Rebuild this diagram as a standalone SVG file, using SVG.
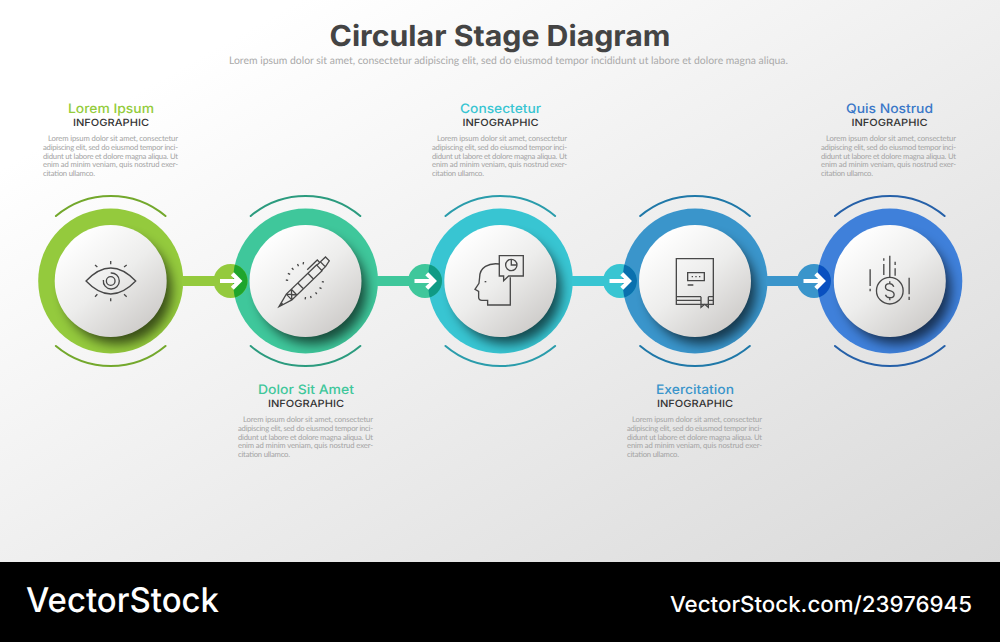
<svg xmlns="http://www.w3.org/2000/svg" xmlns:xlink="http://www.w3.org/1999/xlink" width="1000" height="642" viewBox="0 0 1000 642">
<style>
text{text-rendering:geometricPrecision}
.title{font:700 29px Inter,"Open Sans",sans-serif;fill:#444}
.sub{font:400 10.5px Lato,"Liberation Sans",sans-serif;fill:#aaa}
.head{font:500 13px Inter,"Open Sans",sans-serif}
.info{font:500 10px Inter,"Open Sans",sans-serif;fill:#333}
.body{font:400 7.7px Lato,"Liberation Sans",sans-serif;fill:#a3a3a3}
.arc{fill:none;stroke-width:2;stroke-linecap:round}
.ic{fill:none;stroke:#484848;stroke-width:4;stroke-linecap:butt;stroke-linejoin:miter}
.pen{fill:none;stroke:#484848;stroke-width:1.3;stroke-linejoin:miter}
.arrow{fill:none;stroke:#fff;stroke-width:4.200}
.wm{fill:#fff;font-family:Inter,"Open Sans",sans-serif}
</style>
<defs>
<linearGradient id="bg" x1="0" y1="0" x2="1" y2="1"><stop offset="0.15" stop-color="#fff"/><stop offset="1" stop-color="#d9d9d9"/></linearGradient>
<linearGradient id="disc" x1="0.18" y1="0.1" x2="0.82" y2="0.9"><stop offset="0" stop-color="#fff"/><stop offset="0.5" stop-color="#ededec"/><stop offset="1" stop-color="#cfcdcb"/></linearGradient>
<filter id="blur" x="-40%" y="-40%" width="180%" height="180%"><feGaussianBlur stdDeviation="6"/></filter>
<clipPath id="ringClip"><circle r="72.5"/></clipPath>
<clipPath id="r2"><circle cx="305.5" cy="281" r="72.5"/></clipPath>
<clipPath id="r3"><circle cx="500.3" cy="281" r="72.5"/></clipPath>
<clipPath id="r4"><circle cx="695" cy="281" r="72.5"/></clipPath>
<clipPath id="r5"><circle cx="889.8" cy="281" r="72.5"/></clipPath>
<g id="plate">
<g clip-path="url(#ringClip)"><circle cx="7" cy="9" r="54" fill="#000" opacity="0.62" filter="url(#blur)"/></g>
<circle r="56" fill="url(#disc)"/>
</g>
<path id="arcs" d="M-54.8-65A85 85 0 0 1 54.8-65M-54.8 65A85 85 0 0 0 54.8 65"/>
<path id="arr" d="M-10.5 0H8M1.800-7.200L9 0L1.800 7.200"/>
</defs>
<rect width="1000" height="562" fill="url(#bg)"/>
<text class="title" x="500" y="46" text-anchor="middle" textLength="341" lengthAdjust="spacingAndGlyphs">Circular Stage Diagram</text>
<text class="sub" x="229" y="64" textLength="559" lengthAdjust="spacingAndGlyphs">Lorem ipsum dolor sit amet, consectetur adipiscing elit, sed do eiusmod tempor incididunt ut labore et dolore magna aliqua.</text>

<g id="node-1">
<g transform="translate(110.700 281)"><use xlink:href="#arcs" class="arc" stroke="#73a82c"/><circle r="72.500" fill="#94ca3d"/><use xlink:href="#plate"/>
<g transform="scale(.3333) translate(-272 -573)" class="ic"><path d="M198 573Q272 495 347 573Q272 651 198 573Z"/><path d="M272 549A24 24 0 1 1 250 570"/><circle cx="272" cy="573" r="13"/><path d="M272 513V523M225 525L232 531M320 525L312 531M272 625V634M225 620L232 613M320 620L312 613"/></g></g>
<text class="head" x="111" y="113" text-anchor="middle" fill="#93cc3c" textLength="86" lengthAdjust="spacingAndGlyphs">Lorem Ipsum</text>
<text class="info" x="111" y="126" text-anchor="middle" textLength="76" lengthAdjust="spacingAndGlyphs">INFOGRAPHIC</text>
<g class="body"><text x="48" y="141" textLength="130">Lorem ipsum dolor sit amet, consectetur</text><text x="43" y="149.700" textLength="135">adipiscing elit, sed do eiusmod tempor inci-</text><text x="43" y="158.500" textLength="135">didunt ut labore et dolore magna aliqua. Ut</text><text x="43" y="167.300" textLength="135">enim ad minim veniam, quis nostrud exer-</text><text x="43" y="176" textLength="52">citation ullamco.</text></g>
</g>

<g id="node-2">
<g transform="translate(305.500 281)"><use xlink:href="#arcs" class="arc" stroke="#2b9b7e"/><circle r="72.500" fill="#3fc79b"/><use xlink:href="#plate"/>
<g transform="translate(-26.500 25.700) rotate(-44)" class="pen"><path d="M0 0L14-4H56V4H14ZM5 0H0M14-4V4M21-4V4M14-4L21 4M14 4L21-4M30-4V4M44-4V4M56-3.500H61V3.500H56M61-3.500H68V2L61 3.500M46-7H60L60-3.500"/></g>
<g transform="scale(.3333) translate(-856 -573)" class="ic"><path d="M797 570L804 571M803 550L810 553M815 534L820 539M832 522L835 529M850 516L849 523M855 628L856 621M873 624L871 618M890 612L886 607M904 596L898 593M911 576L905 575"/></g></g>
<text class="head" x="306" y="394" text-anchor="middle" fill="#3fc79b" textLength="96" lengthAdjust="spacingAndGlyphs">Dolor Sit Amet</text>
<text class="info" x="306" y="407" text-anchor="middle" textLength="76" lengthAdjust="spacingAndGlyphs">INFOGRAPHIC</text>
<g class="body"><text x="243" y="422" textLength="130">Lorem ipsum dolor sit amet, consectetur</text><text x="238" y="430.700" textLength="135">adipiscing elit, sed do eiusmod tempor inci-</text><text x="238" y="439.500" textLength="135">didunt ut labore et dolore magna aliqua. Ut</text><text x="238" y="448.300" textLength="135">enim ad minim veniam, quis nostrud exer-</text><text x="238" y="457" textLength="52">citation ullamco.</text></g>
</g>

<g id="node-3">
<g transform="translate(500.300 281)"><use xlink:href="#arcs" class="arc" stroke="#2a9cab"/><circle r="72.500" fill="#38c5d2"/><use xlink:href="#plate"/>
<g transform="scale(.3333) translate(-300 -273)" class="ic"><path d="M297 222C265 218 238 232 238 262L236 280L224 298L235 304L235 322Q235 331 245 331L262 331V345H330V262"/><path d="M297 197H369V258H325L310 272V258H297Z"/><circle cx="333" cy="225" r="17"/><path d="M333 208V225H350"/><path d="M253 275H258"/></g></g>
<text class="head" x="500.500" y="113" text-anchor="middle" fill="#38c5d2" textLength="81" lengthAdjust="spacingAndGlyphs">Consectetur</text>
<text class="info" x="500.500" y="126" text-anchor="middle" textLength="76" lengthAdjust="spacingAndGlyphs">INFOGRAPHIC</text>
<g class="body"><text x="437" y="141" textLength="130">Lorem ipsum dolor sit amet, consectetur</text><text x="432" y="149.700" textLength="135">adipiscing elit, sed do eiusmod tempor inci-</text><text x="432" y="158.500" textLength="135">didunt ut labore et dolore magna aliqua. Ut</text><text x="432" y="167.300" textLength="135">enim ad minim veniam, quis nostrud exer-</text><text x="432" y="176" textLength="52">citation ullamco.</text></g>
</g>

<g id="node-4">
<g transform="translate(695 281)"><use xlink:href="#arcs" class="arc" stroke="#1f78a8"/><circle r="72.500" fill="#3a95cb"/><use xlink:href="#plate"/>
<g transform="scale(.3333) translate(-882 -273)" class="ic"><path d="M826 206H937V343H826ZM826 320H900M922 320H937M826 331H900M922 331H937M860 248H910V272H860ZM860 285H877M900 320V352L911 343L922 352V320"/><path d="M872 260H876M883 260H887M894 260H898"/></g></g>
<text class="head" x="695" y="394" text-anchor="middle" fill="#3a95cb" textLength="78" lengthAdjust="spacingAndGlyphs">Exercitation</text>
<text class="info" x="695" y="407" text-anchor="middle" textLength="76" lengthAdjust="spacingAndGlyphs">INFOGRAPHIC</text>
<g class="body"><text x="632" y="422" textLength="130">Lorem ipsum dolor sit amet, consectetur</text><text x="627" y="430.700" textLength="135">adipiscing elit, sed do eiusmod tempor inci-</text><text x="627" y="439.500" textLength="135">didunt ut labore et dolore magna aliqua. Ut</text><text x="627" y="448.300" textLength="135">enim ad minim veniam, quis nostrud exer-</text><text x="627" y="457" textLength="52">citation ullamco.</text></g>
</g>

<g id="node-5">
<g transform="translate(889.800 281)"><use xlink:href="#arcs" class="arc" stroke="#2560a8"/><circle r="72.500" fill="#3f80da"/><use xlink:href="#plate"/>
<g transform="scale(.3333) translate(-388 -273)" class="ic"><circle cx="388" cy="302" r="40"/><path d="M370 205V212M370 222V255M388 197V262M404 215V225M404 235V257M329 238V288M329 296V304M446 263V313M446 320V330"/><path d="M400 290Q396 281 387 281Q375 281 375 291Q375 300 388 302Q401 305 401 314Q401 323 388 323Q378 323 375 314M388 274V281M388 323V331"/></g></g>
<text class="head" x="889.500" y="113" text-anchor="middle" fill="#3a78c8" textLength="87" lengthAdjust="spacingAndGlyphs">Quis Nostrud</text>
<text class="info" x="889.500" y="126" text-anchor="middle" textLength="76" lengthAdjust="spacingAndGlyphs">INFOGRAPHIC</text>
<g class="body"><text x="826" y="141" textLength="130">Lorem ipsum dolor sit amet, consectetur</text><text x="821" y="149.700" textLength="135">adipiscing elit, sed do eiusmod tempor inci-</text><text x="821" y="158.500" textLength="135">didunt ut labore et dolore magna aliqua. Ut</text><text x="821" y="167.300" textLength="135">enim ad minim veniam, quis nostrud exer-</text><text x="821" y="176" textLength="52">citation ullamco.</text></g>
</g>

<g id="connectors">
<g id="c1"><rect x="182" y="276" width="40" height="10" fill="#94ca3d"/><circle cx="230.500" cy="281" r="17" fill="#94ca3d"/><circle cx="230.500" cy="281" r="17" fill="#1ea52c" clip-path="url(#r2)"/><use xlink:href="#arr" x="230.500" y="281" class="arrow"/></g>
<g id="c2"><rect x="377" y="276" width="40" height="10" fill="#3fc79b"/><circle cx="425" cy="281" r="17" fill="#3fc79b"/><circle cx="425" cy="281" r="17" fill="#0f9a84" clip-path="url(#r3)"/><use xlink:href="#arr" x="425" y="281" class="arrow"/></g>
<g id="c3"><rect x="572" y="276" width="40" height="10" fill="#38c5d2"/><circle cx="620" cy="281" r="17" fill="#38c5d2"/><circle cx="620" cy="281" r="17" fill="#0a70ae" clip-path="url(#r4)"/><use xlink:href="#arr" x="620" y="281" class="arrow"/></g>
<g id="c4"><rect x="766" y="276" width="40" height="10" fill="#3a95cb"/><circle cx="814" cy="281" r="17" fill="#3a95cb"/><circle cx="814" cy="281" r="17" fill="#0a50c0" clip-path="url(#r5)"/><use xlink:href="#arr" x="814" y="281" class="arrow"/></g>
</g>

<rect y="562" width="1000" height="80" fill="#000"/>
<text class="wm" x="26" y="612" font-size="34" font-weight="500" textLength="193" lengthAdjust="spacingAndGlyphs">VectorStock</text>
<text class="wm" x="670" y="612" font-size="22" font-weight="500" textLength="302" lengthAdjust="spacingAndGlyphs">VectorStock.com/23976945</text>
</svg>
